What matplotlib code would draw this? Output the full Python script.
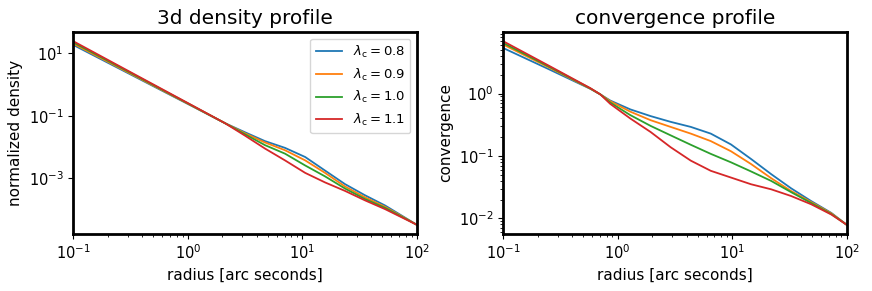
import numpy as np
import matplotlib
matplotlib.use("Agg")
import matplotlib.pyplot as plt
from matplotlib.ticker import FixedLocator, NullLocator, LogFormatterSciNotation

# lambda_c values of the four profiles
lambda_c = [0.8, 0.9, 1.0, 1.1]
colors = ["tab:blue", "tab:orange", "tab:green", "tab:red"]

# 3d density profile
r_density = [0.1, 0.316, 1.0, 2.11, 3.16, 4.72, 7.06, 10.6, 15.8, 23.6, 35.3, 52.8, 100]
density_08 = [18.6, 2.12, 0.241, 0.0586, 0.0299, 0.0156, 0.00948, 0.00483, 0.00178,
              6.56e-4, 2.88e-4, 1.36e-4, 3.28e-5]
density_09 = [20.4, 2.24, 0.247, 0.0586, 0.0277, 0.0141, 0.00796, 0.00377, 0.00150,
              5.51e-4, 2.48e-4, 1.23e-4, 3.28e-5]
density_10 = [22.4, 2.38, 0.252, 0.0586, 0.0257, 0.0116, 0.00619, 0.00259, 0.00116,
              4.74e-4, 2.19e-4, 1.14e-4, 3.28e-5]
density_11 = [24.5, 2.51, 0.258, 0.0586, 0.0233, 0.00902, 0.00377, 0.00150, 7.43e-4,
              3.98e-4, 1.98e-4, 1.04e-4, 3.28e-5]

# convergence profile
r_kappa = [0.1, 0.251, 0.577, 0.705, 0.863, 1.29, 1.94, 2.90, 4.35, 6.50, 9.75, 14.6,
           21.9, 32.7, 49.0, 73.5, 100]
kappa_08 = [5.37, 2.45, 1.19, 0.97, 0.771, 0.557, 0.435, 0.352, 0.292, 0.228, 0.153,
            0.0895, 0.0511, 0.0303, 0.0189, 0.0122, 0.00789]
kappa_09 = [6.10, 2.62, 1.20, 0.97, 0.752, 0.512, 0.374, 0.292, 0.228, 0.173, 0.119,
            0.0743, 0.0440, 0.0274, 0.0182, 0.0120, 0.00789]
kappa_10 = [6.47, 2.70, 1.21, 0.97, 0.716, 0.451, 0.303, 0.214, 0.151, 0.108, 0.0791,
            0.0565, 0.0398, 0.0263, 0.0176, 0.0117, 0.00789]
kappa_11 = [6.90, 2.79, 1.22, 0.97, 0.681, 0.398, 0.242, 0.138, 0.0841, 0.0578, 0.0451,
            0.0352, 0.0292, 0.0228, 0.0168, 0.0115, 0.00789]

density_ticks = [10, 0.1, 1e-3]

densities = [density_08, density_09, density_10, density_11]
kappas = [kappa_08, kappa_09, kappa_10, kappa_11]

fig = plt.figure(figsize=(8.72, 2.91), dpi=100)
ax1 = fig.add_axes([0.084, 0.196, 0.394, 0.694])
ax2 = fig.add_axes([0.577, 0.196, 0.394, 0.694])

for lam, col, dens, kap in zip(lambda_c, colors, densities, kappas):
    ax1.plot(r_density, dens, color=col, lw=1.3, label=r"$\lambda_{\rm c} = %.1f$" % lam)
    ax2.plot(r_kappa, kap, color=col, lw=1.3)

for ax in (ax1, ax2):
    ax.set_xscale("log")
    ax.set_yscale("log")
    ax.set_xlim(0.1, 100)
    ax.set_xlabel("radius [arc seconds]", fontsize=11)
    ax.tick_params(labelsize=10.5)
    for sp in ax.spines.values():
        sp.set_linewidth(2.0)

# left panel only labels every second decade, no minor ticks
ax1.yaxis.set_major_locator(FixedLocator(density_ticks))
ax1.yaxis.set_major_formatter(LogFormatterSciNotation())
ax1.yaxis.set_minor_locator(NullLocator())

ax1.set_ylabel("normalized density", fontsize=11)
ax1.set_title("3d density profile", fontsize=14.5)
ax1.legend(loc="upper right", fontsize=9.5)

ax2.set_ylabel("convergence", fontsize=11)
ax2.set_title("convergence profile", fontsize=14.5)

fig.savefig("out.png", dpi=100)
